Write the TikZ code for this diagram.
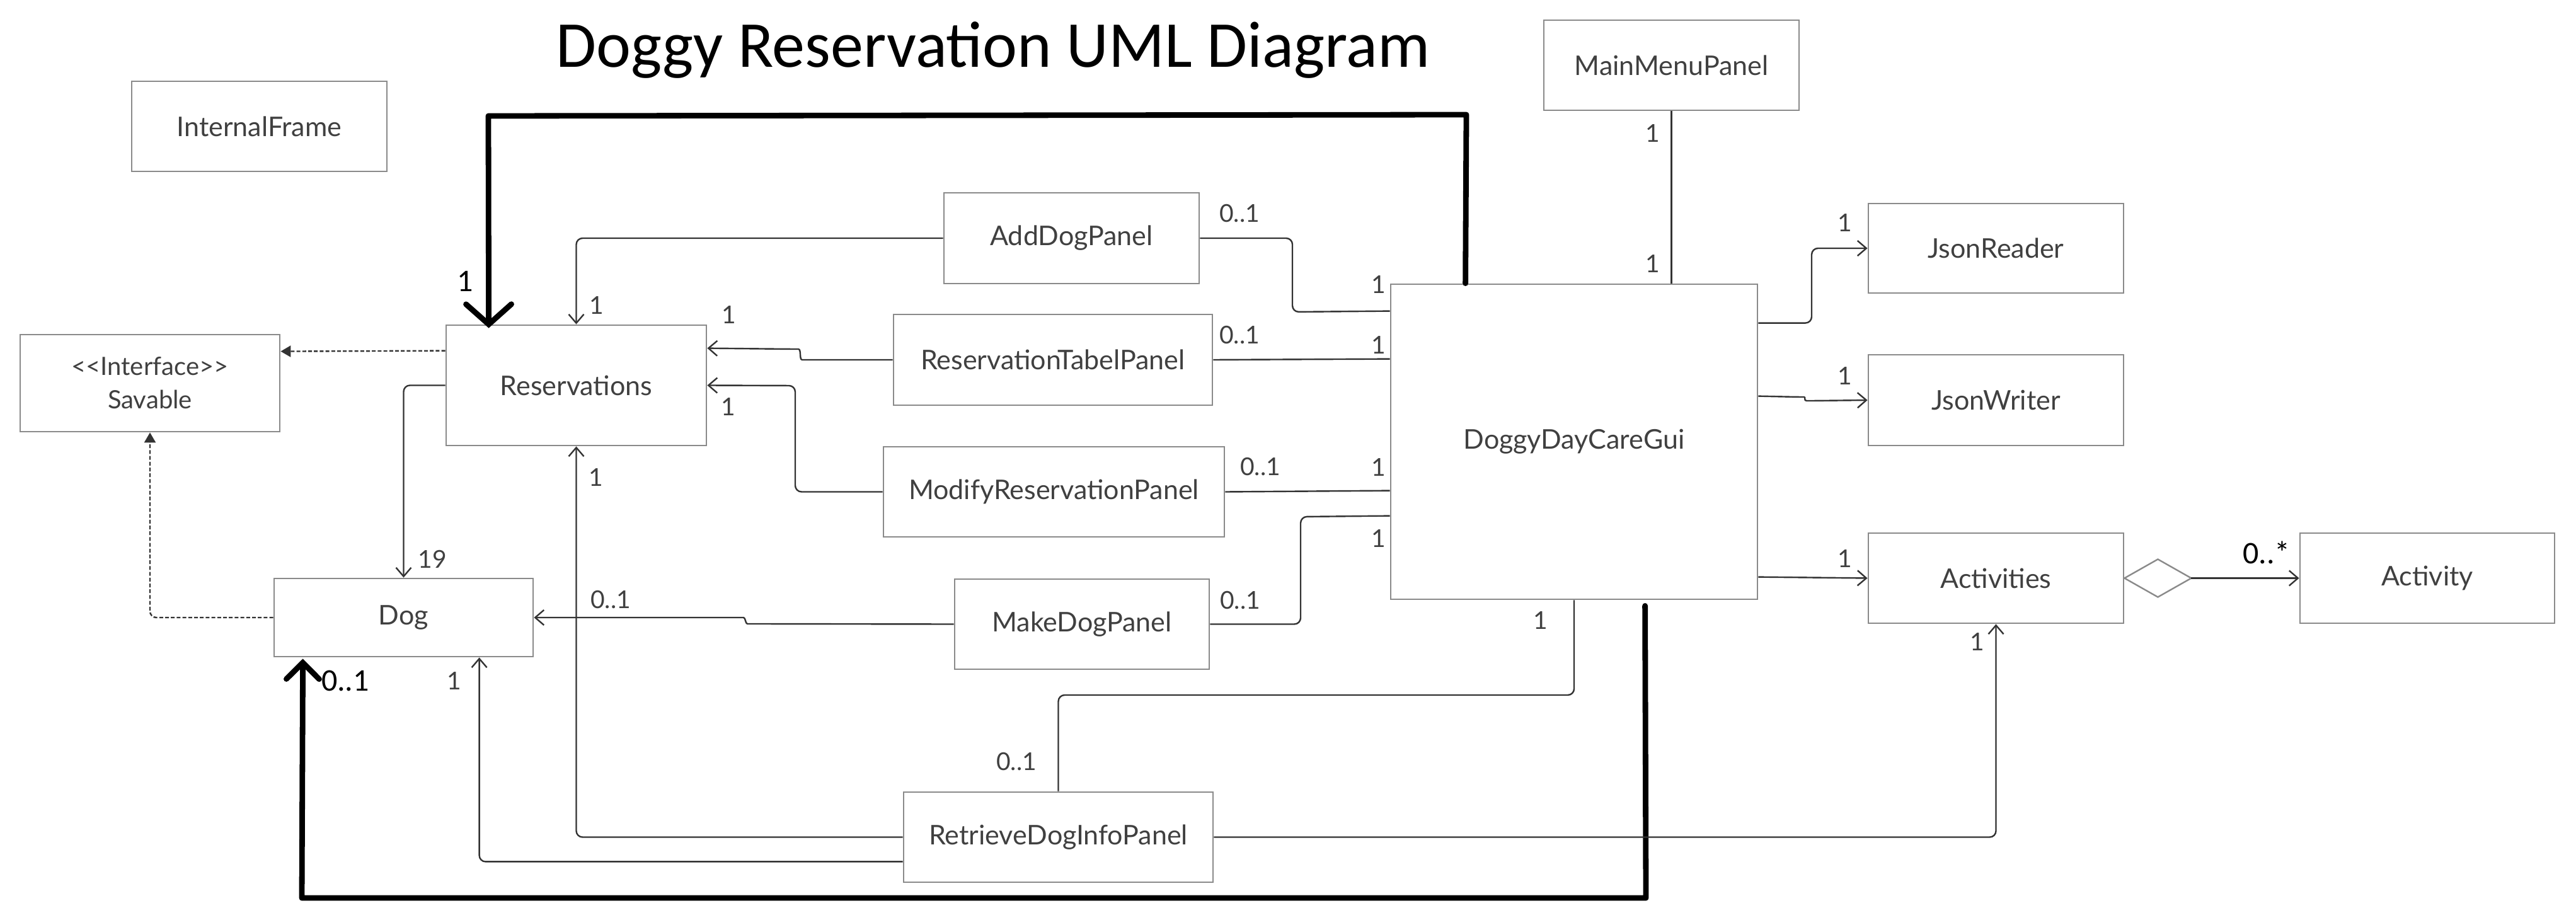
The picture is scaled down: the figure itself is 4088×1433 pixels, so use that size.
\documentclass[tikz,border=0pt]{standalone}
\usepackage{fontspec}
\setmainfont{Lato}
\newfontfamily\carlito{Carlito}
\usetikzlibrary{arrows.meta,calc}
\definecolor{boxgray}{HTML}{8A8A8A}
\definecolor{txtgray}{HTML}{404040}
\definecolor{linegray}{HTML}{333333}
\newcommand{\boxfont}{\fontsize{10.75pt}{13pt}\selectfont}
\newcommand{\lblfont}{\fontsize{9.75pt}{12pt}\selectfont}
\newcommand{\bigfont}{\carlito\fontsize{12.5pt}{15pt}\selectfont}
\newcommand{\titlefont}{\carlito\fontsize{26pt}{30pt}\selectfont}
\tikzset{
  box/.style 2 args={draw=boxgray, line width=0.7pt, fill=white, text=txtgray, font=\boxfont,
     inner sep=0pt, minimum width=#1*0.25pt, minimum height=#2*0.25pt},
  conn/.style={draw=linegray, line width=0.6pt, rounded corners=2.5pt},
  arr/.style={conn, -{Straight Barb[length=3.5pt,width=6pt]}},
  dep/.style={draw=linegray, line width=0.6pt, rounded corners=2.5pt, dash pattern=on 1.5pt off 0.8pt,
     -{Triangle[length=4pt,width=4.5pt]}},
  heavy/.style={draw=black, line width=2.2pt, line cap=round, line join=round},
  heavytipA/.style={-{Straight Barb[length=8pt,width=18pt,line cap=round]}},
  heavytipB/.style={-{Straight Barb[length=6.5pt,width=13pt,line cap=round]}},
  mult/.style={text=txtgray, font=\lblfont, inner sep=0pt},
  bigmult/.style={text=black, font=\bigfont, inner sep=0pt},
}
\begin{document}
\begin{tikzpicture}[x=0.25pt,y=-0.25pt]
\fill[white] (0,0) rectangle (4088,1433);
\useasboundingbox (0,0) rectangle (4088,1433);

\node[font=\titlefont, anchor=base, inner sep=0pt] (title) at (1576,107) {Doggy Reservation UML Diagram};

% boxes
\node[box={405}{143}] (ifr) at (411.5,200.5) {InternalFrame};
\node[box={412}{154}, align=center, font=\fontsize{10pt}{13.25pt}\selectfont] (sav) at (238,608)
   {{<}\kern0pt{<}Interface{>}\kern0pt{>}\\Savable};
\node[box={413}{191}] (res) at (914.5,611.5) {Reservations};
\node[box={411}{124}] (dog) at (640.5,980) {Dog};
\node[box={405}{144}] (add) at (1700.5,378) {AddDogPanel};
\node[box={506}{144}] (rtp) at (1671,571) {ReservationTabelPanel};
\node[box={541}{143}] (mrp) at (1672.5,780.5) {ModifyReservationPanel};
\node[box={404}{143}] (mdp) at (1717,990.5) {MakeDogPanel};
\node[box={491}{143}] (rdip) at (1679.5,1328.5) {RetrieveDogInfoPanel};
\node[box={582}{500}] (gui) at (2498,701) {DoggyDayCareGui};
\node[box={405}{143}] (mmp) at (2652.5,103.5) {MainMenuPanel};
\node[box={405}{142}] (jr) at (3167.5,394) {JsonReader};
\node[box={405}{144}] (jw) at (3167.5,635) {JsonWriter};
\node[box={405}{143}] (act) at (3167.5,917.5) {Activities};
\node[box={404}{143}] (acty) at (3852,917.5) {Activity};

% thick hand-drawn associations
\draw[heavy, heavytipA] ($(gui.north west)+(120,0)$) -- (2327,182) -- (775,184) -- ($(res.north west)+(69,6)$);
\draw[heavy, heavytipB] ($(gui.south west)+(405,9)$) -- (2612,1425) -- (479,1425) -- ($(dog.south west)+(47,2)$);

% associations
\draw[arr] (add.west) -| (res.north);
\draw[conn] (add.east) -| (2051,495) -- ($(gui.north west)+(0,44)$);
\draw[arr] (rtp.west) -- (1283,571) .. controls (1268,571) and (1272,554) .. (1257,554) -- ($(res.north east)+(0,38)$);
\draw[conn] (rtp.east) -- ($(gui.north west)+(0,120)$);
\draw[arr] (mrp.west) -| (1262,612) -- (res.east);
\draw[conn] (mrp.east) -- ($(gui.north west)+(0,329)$);
\draw[arr] (mdp.west) -- (1196,990) .. controls (1183,990) and (1183,980) .. (1170,980) -- (dog.east);
\draw[conn] (mdp.east) -| (2064,820) -- ($(gui.north west)+(0,369)$);
\draw[conn] (rdip.north) |- (2498,1103) -- (gui.south);
\draw[arr] (rdip.west) -| (res.south);
\draw[arr] ($(rdip.south west)+(0,-34)$) -| ($(dog.south west)+(327,0)$);
\draw[arr] (rdip.east) -| (act.south);
\draw[arr] (res.west) -| (dog.north);
\draw[dep] ($(res.north west)+(0,42)$) -- ($(sav.north east)+(0,28)$);
\draw[dep] (dog.west) -| (sav.south);
\draw[conn] (mmp.south) -- (mmp.south |- gui.north);
\draw[arr] ($(gui.north east)+(0,63)$) -| (2875,394) -- (jr.west);
\draw[arr] ($(gui.north east)+(0,179)$) -- (2853,630) .. controls (2866,630) and (2862,636) .. (2877,636) -- (jw.west);
\draw[arr] ($(gui.north east)+(0,466)$) -- (act.west);
\draw[draw=boxgray, line width=0.6pt, fill=white] (act.east) -- ++(53,-30) -- ++(53,30) coordinate (aggtip) -- ++(-53,30) -- cycle;
\draw[arr] (aggtip) -- (acty.west);

% multiplicities
\node[bigmult] (b1) at (738,446) {1};
\node[bigmult] (b2) at (548,1080) {0..1};
\node[bigmult] (b3) at (3597,877) {0..*};
\node[mult] (m1) at (947,484) {1};
\node[mult] (m2) at (1157,499) {1};
\node[mult] (m3) at (1967,339) {0..1};
\node[mult] (m4) at (2188,452) {1};
\node[mult] (m5) at (1967,532) {0..1};
\node[mult] (m6) at (2188,547) {1};
\node[mult] (m7) at (1156,645) {1};
\node[mult] (m8) at (2000,741) {0..1};
\node[mult] (m9) at (2188,741) {1};
\node[mult] (m10) at (969,952) {0..1};
\node[mult] (m11) at (1968,953) {0..1};
\node[mult] (m12) at (2188,854) {1};
\node[mult] (m13) at (1613,1209) {0..1};
\node[mult] (m14) at (2445,984) {1};
\node[mult] (m15) at (946,757) {1};
\node[mult] (m16) at (721,1080) {1};
\node[mult] (m17) at (3138,1018) {1};
\node[mult] (m18) at (686,887) {19};
\node[mult] (m19) at (2623,212) {1};
\node[mult] (m20) at (2623,419) {1};
\node[mult] (m21) at (2928,354) {1};
\node[mult] (m22) at (2928,596) {1};
\node[mult] (m23) at (2928,886) {1};
\end{tikzpicture}
\end{document}
